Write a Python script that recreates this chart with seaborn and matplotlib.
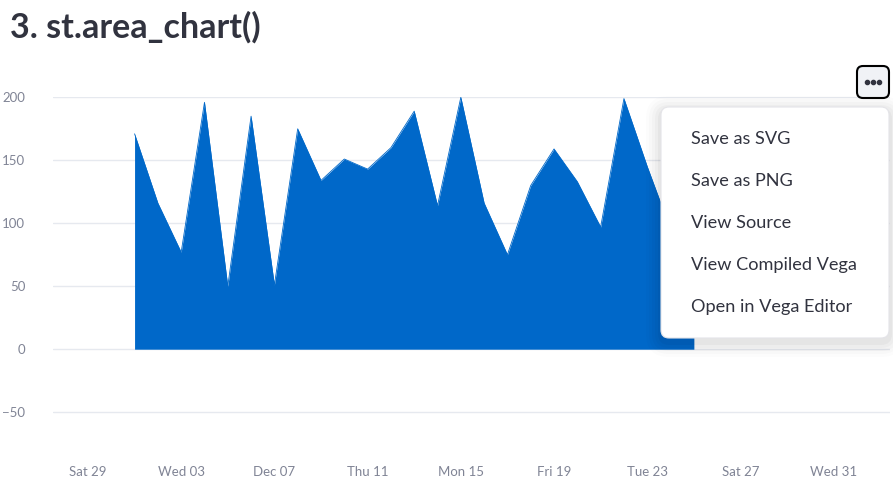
import numpy as np
import pandas as pd
import seaborn as sns
import matplotlib.pyplot as plt
from matplotlib.patches import FancyBboxPatch

# values (Dec 23-25 partly hidden by the menu, estimated)
dates = pd.date_range("2025-12-01", "2025-12-25", freq="D")
values = [171, 116, 77, 196, 50, 185, 51, 175, 134, 151, 143, 160, 189,
          114, 200, 116, 75, 130, 159, 133, 97, 199, 145, 95, 120]
tick_dates = pd.date_range("2025-11-29", periods=9, freq="4D")
tick_labels = ["Sat 29", "Wed 03", "Dec 07", "Thu 11", "Mon 15",
               "Fri 19", "Tue 23", "Sat 27", "Wed 31"]
y_ticks = [-50, 0, 50, 100, 150, 200]
menu_items = ["Save as SVG", "Save as PNG", "View Source",
              "View Compiled Vega", "Open in Vega Editor"]

BLUE = "#0068c9"
GRID = "#e6e9ef"
LABEL = "#808495"
TEXT = "#31333f"

sns.set_theme(style="white")
plt.rcParams["font.family"] = ["Lato", "DejaVu Sans"]

W, H = 893, 492
fig = plt.figure(figsize=(W / 100, H / 100), dpi=100)
ax = fig.add_axes([53 / W, 1 - 455 / H, (890 - 53) / W, (455 - 97.3) / H])

df = pd.DataFrame({"date": dates, "value": values})
sns.lineplot(data=df, x="date", y="value", color=BLUE, linewidth=0.6, ax=ax)
ax.fill_between(df["date"], 0, df["value"], color=BLUE, linewidth=0)

ax.set_xlim(pd.Timestamp("2025-11-27 12:00"), pd.Timestamp("2026-01-02 10:00"))
ax.set_ylim(-84, 200)
ax.set_yticks(y_ticks)
ax.set_yticklabels([f"{v}".replace("-", "\u2212") for v in y_ticks])
ax.set_xticks(tick_dates)
ax.set_xticklabels(tick_labels)
ax.tick_params(axis="y", length=0, pad=20, labelsize=9.5, labelcolor=LABEL)
ax.tick_params(axis="x", length=0, pad=8, labelsize=9.5, labelcolor=LABEL)
ax.grid(axis="y", color=GRID, linewidth=1)
ax.grid(axis="x", visible=False)
ax.set_axisbelow(True)
for s in ax.spines.values():
    s.set_visible(False)
ax.set_xlabel("")
ax.set_ylabel("")

fig.text(10 / W, 1 - 27 / H, "3. st.area_chart()", fontsize=24.5, fontweight="bold",
         color=TEXT, va="center", ha="left")

# overlay in pixel coordinates for the popup menu
ov = fig.add_axes([0, 0, 1, 1], zorder=5)
ov.set_xlim(0, W)
ov.set_ylim(H, 0)
ov.axis("off")
ov.patch.set_alpha(0)

for i, a in enumerate([0.03, 0.025, 0.02, 0.015, 0.01]):
    g = 3 + i * 3
    ov.add_patch(FancyBboxPatch((661 - g, 107 - g + 4), 228 + 2 * g, 231 + 2 * g,
                                boxstyle=f"round,pad=0,rounding_size={8 + g}",
                                facecolor="black", edgecolor="none", alpha=a))
ov.add_patch(FancyBboxPatch((661, 107), 228, 231, boxstyle="round,pad=0,rounding_size=8",
                            facecolor="white", edgecolor="#e4e4e8", linewidth=0.8))
for i, item in enumerate(menu_items):
    ov.text(691, 139 + i * 42, item, fontsize=13.1, color=TEXT, va="center", ha="left")

ov.add_patch(FancyBboxPatch((857, 66), 32, 32, boxstyle="round,pad=0,rounding_size=6",
                            facecolor="#f0f2f6", edgecolor="black", linewidth=1.5))
for dx in (-6, 0, 6):
    ov.plot(873 + dx, 82, "o", color=TEXT, markersize=3)

fig.savefig("out.png", dpi=100)
